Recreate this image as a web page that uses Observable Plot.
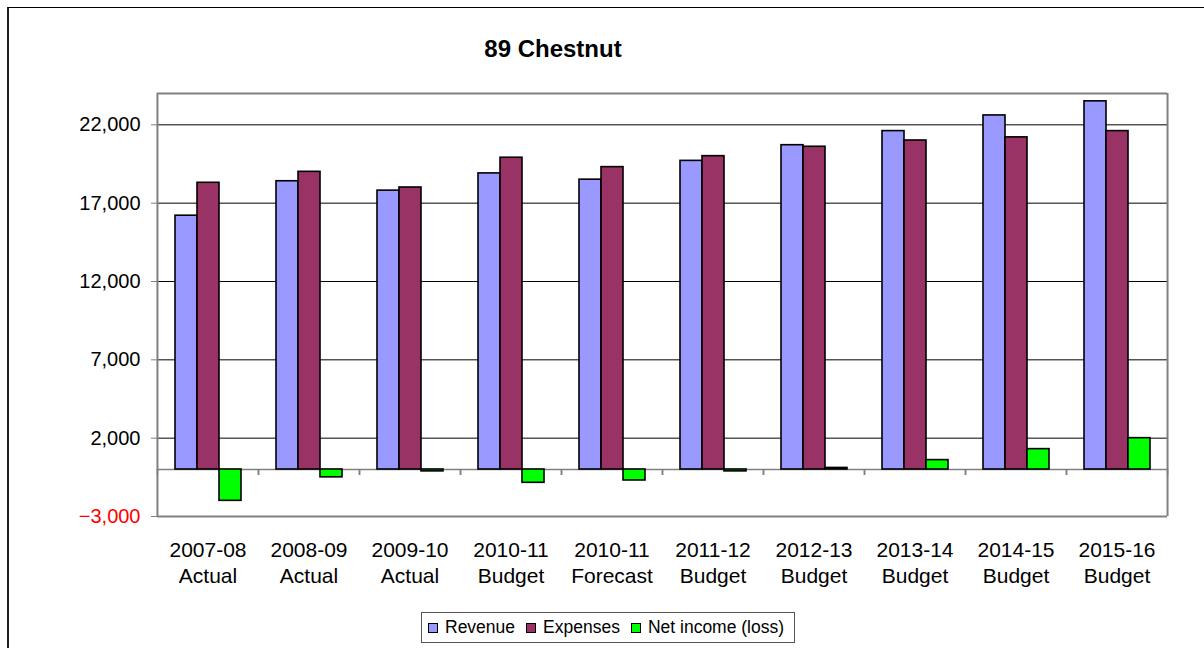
<!DOCTYPE html>
<html>
<head>
<meta charset="utf-8">
<script src="https://cdn.jsdelivr.net/npm/d3@7"></script>
<script src="https://cdn.jsdelivr.net/npm/@observablehq/plot@0.6"></script>
<style>
  html, body { margin: 0; padding: 0; background: #fff; }
  body { width: 1204px; height: 648px; position: relative; overflow: hidden; font-family: "Liberation Sans", Arial, sans-serif; }
  #outer { position: absolute; left: 7px; top: 7px; width: 1300px; height: 700px; border-left: 2px solid #222; border-top: 1px solid #000; z-index: 5; pointer-events: none; }
  #title { position: absolute; left: 553px; top: 37px; transform: translateX(-50%); font-size: 24px; line-height: 24px; font-weight: bold; white-space: nowrap; color: #000; }
  #chart { position: absolute; left: 0; top: 80px; }
  #legend { position: absolute; left: 421px; top: 612px; width: 374px; height: 31px; border: 1px solid #555; box-sizing: border-box; display: flex; align-items: center; padding-left: 6px; font-size: 17.5px; color: #000; white-space: nowrap; }
  .item { display: flex; align-items: center; margin-right: 11px; }
  .sw { width: 10px; height: 10px; border: 1px solid #000; box-sizing: border-box; margin-right: 7px; }
</style>
</head>
<body>
<div id="title">89 Chestnut</div>
<div id="chart"></div>
<div id="legend"></div>
<div id="outer"></div>
<script>
const years = ["2007-08","2008-09","2009-10","2010-11","2010-11","2011-12","2012-13","2013-14","2014-15","2015-16"];
const kinds = ["Actual","Actual","Actual","Budget","Forecast","Budget","Budget","Budget","Budget","Budget"];
const seriesNames = ["Revenue","Expenses","Net income (loss)"];
const seriesColors = ["#9999ff","#993366","#00ff00"];
const revenue   = [16200, 18400, 17800, 18900, 18500, 19700, 20700, 21600, 22600, 23500];
const expenses  = [18300, 19000, 18000, 19900, 19300, 20000, 20600, 21000, 21200, 21600];
const netIncome = [-2000,  -500,  -120,  -850,  -700,  -120,   100,   600,  1300,  2000];
const yTicksPos = [2000, 7000, 12000, 17000, 22000];
const yTicksNeg = [-3000];
const yDomain = [-3000, 24000];

const categories = years.map((y, i) => `${y}\n${kinds[i]}`);
const seriesValues = [revenue, expenses, netIncome];
const rows = categories.flatMap((c, i) =>
  seriesNames.map((s, k) => ({cat: c, series: s, value: seriesValues[k][i]})));

const W = 1204, H = 520, ML = 156, MR = 37, MT = 13, MB = 84;
const fw = (W - ML - MR) / categories.length;
const gray = "#808080";

const chart = Plot.plot({
  width: W, height: H,
  marginLeft: ML, marginRight: MR, marginTop: MT, marginBottom: MB,
  style: {fontFamily: "'Liberation Sans', Arial, sans-serif", background: "#fff", color: "#000"},
  fx: {domain: categories, padding: 0, label: null},
  x: {domain: seriesNames, paddingInner: 0, paddingOuter: 0.73, axis: null},
  y: {domain: yDomain, label: null},
  color: {domain: seriesNames, range: seriesColors},
  marks: [
    Plot.gridY(yTicksPos, {stroke: "#000", strokeOpacity: 1, strokeWidth: 1}),
    Plot.ruleY([0], {stroke: gray, strokeWidth: 1.5}),
    Plot.barY(rows, {fx: "cat", x: "series", y: "value", fill: "series", stroke: "#000", strokeWidth: 1.6}),
    Plot.ruleY(yDomain, {stroke: gray, strokeWidth: 2}),
    Plot.ruleX([0], {x: null, dx: -fw / 2, stroke: gray, strokeWidth: 2, facetAnchor: "left"}),
    Plot.ruleX([0], {x: null, dx: fw / 2, stroke: gray, strokeWidth: 2, facetAnchor: "right"}),
    Plot.ruleX([0], {x: null, y1: () => 0, y2: () => 0, insetBottom: -6, dx: -fw / 2, stroke: gray, strokeWidth: 1.5}),
    Plot.ruleX([0], {x: null, y1: () => 0, y2: () => 0, insetBottom: -6, dx: fw / 2, stroke: gray, strokeWidth: 1.5}),
    Plot.axisY(yTicksPos, {tickSize: 6, tickPadding: 11, fontSize: 20, stroke: gray, fill: "#000", label: null, tickFormat: d3.format(",")}),
    Plot.axisY(yTicksNeg, {tickSize: 6, tickPadding: 11, fontSize: 20, stroke: gray, fill: "red", label: null, tickFormat: d3.format(",")}),
    Plot.axisFx({anchor: "bottom", tickSize: 0, tickPadding: 22, fontSize: 21, lineHeight: 1.25, label: null, fill: "#000"})
  ]
});
document.getElementById("chart").appendChild(chart);

const legend = document.getElementById("legend");
seriesNames.forEach((s, k) => {
  const item = document.createElement("span");
  item.className = "item";
  const sw = document.createElement("span");
  sw.className = "sw";
  sw.style.background = seriesColors[k];
  item.appendChild(sw);
  item.appendChild(document.createTextNode(s));
  legend.appendChild(item);
});
</script>
</body>
</html>
